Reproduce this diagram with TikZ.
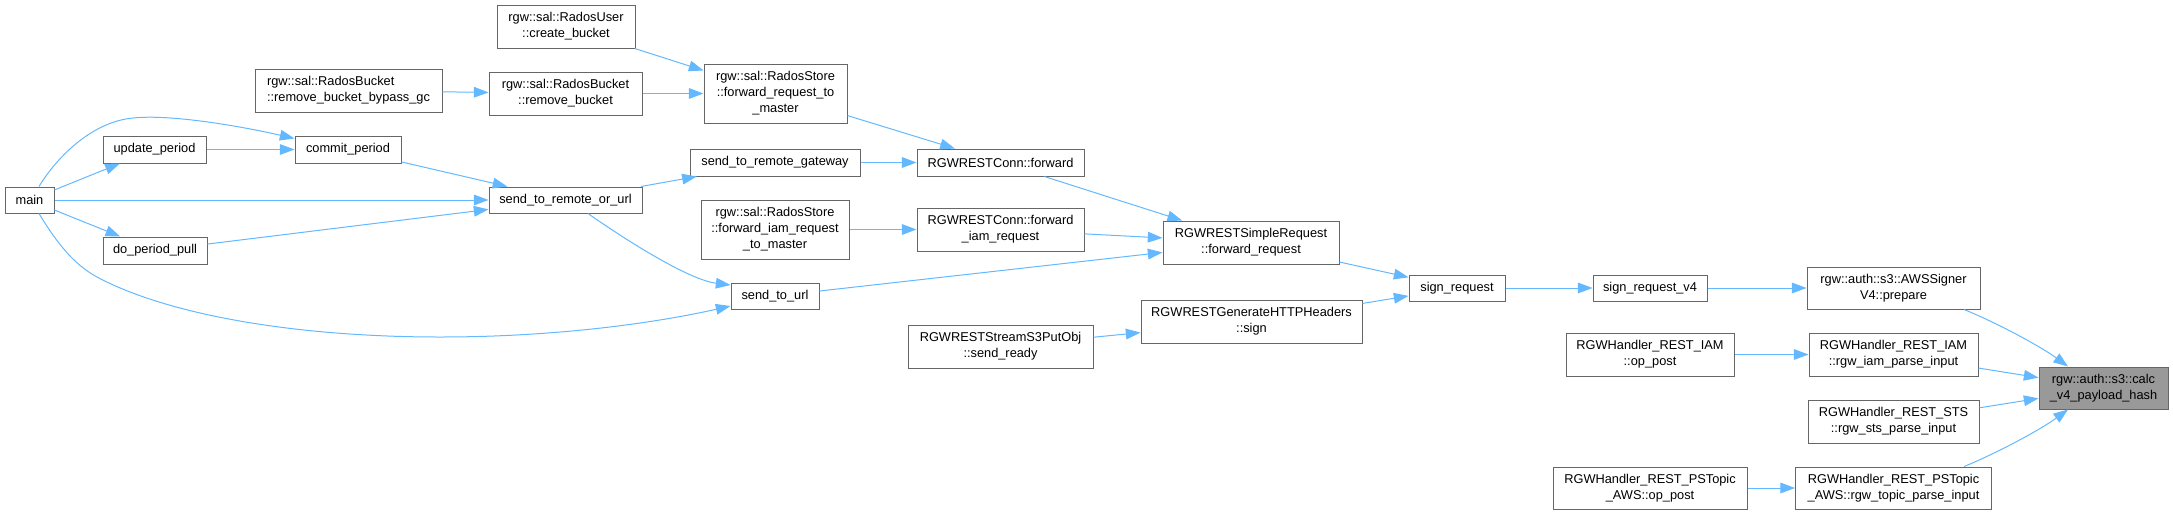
\documentclass[tikz,border=0pt]{standalone}
\usepackage{fontspec}
\setmainfont{Liberation Sans}
\usetikzlibrary{arrows.meta,calc}
\definecolor{edgeblue}{HTML}{63B8FF}
\definecolor{nodeborder}{HTML}{666666}
\definecolor{rootfill}{HTML}{999999}
\begin{document}
\begin{tikzpicture}[x=0.75pt,y=-0.75pt,
  fn/.style={draw=nodeborder, line width=0.75pt, fill=white, inner sep=0pt, align=center,
    font=\fontsize{9.6}{12}\selectfont},
  wh/.style 2 args={minimum width={#1*0.75pt}, minimum height={#2*0.75pt}},
  rootfn/.style={fn, fill=rootfill},
  edge/.style={draw=edgeblue, line width=0.75pt, -{Triangle[length=11pt,width=8pt]}}]
\useasboundingbox (0,0) rectangle (2173,515);

% nodes
\node[fn, wh={49}{26}] (main) at (29.5,200) {main};
\node[fn, wh={103}{27}] (update) at (154.5,149.5) {update\_period};
\node[fn, wh={104}{27}] (pull) at (155,250.5) {do\_period\_pull};
\node[fn, wh={106}{27}] (commit) at (348,149.5) {commit\_period};
\node[fn, wh={187}{43}, align=left] (bypass) at (348.5,90.5) {rgw::sal::RadosBucket\\::remove\_bucket\_bypass\_gc};
\node[fn, wh={138}{43}] (createb) at (566,26.5) {rgw::sal::RadosUser\\::create\_bucket};
\node[fn, wh={153}{43}] (removeb) at (565.5,93.5) {rgw::sal::RadosBucket\\::remove\_bucket};
\node[fn, wh={153}{26}] (remoteorurl) at (565.5,200) {send\_to\_remote\_or\_url};
\node[fn, wh={143}{59}] (fwdmaster) at (775.5,93.5) {rgw::sal::RadosStore\\::forward\_request\_to\\\_master};
\node[fn, wh={170}{27}] (gateway) at (775,162.5) {send\_to\_remote\_gateway};
\node[fn, wh={148}{59}] (iammaster) at (775,229.5) {rgw::sal::RadosStore\\::forward\_iam\_request\\\_to\_master};
\node[fn, wh={88}{26}] (sendurl) at (775,296) {send\_to\_url};
\node[fn, wh={167}{27}] (connfwd) at (1000.5,162.5) {RGWRESTConn::forward};
\node[fn, wh={167}{43}] (conniam) at (1000.5,229.5) {RGWRESTConn::forward\\\_iam\_request};
\node[fn, wh={185}{43}] (putobj) at (1000.5,346.5) {RGWRESTStreamS3PutObj\\::send\_ready};
\node[fn, wh={176}{43}] (simplefwd) at (1251,242.5) {RGWRESTSimpleRequest\\::forward\_request};
\node[fn, wh={221}{43}] (hsign) at (1251.5,321.5) {RGWRESTGenerateHTTPHeaders\\::sign};
\node[fn, wh={96}{26}] (signreq) at (1457,288) {sign\_request};
\node[fn, wh={114}{26}] (signv4) at (1650,288) {sign\_request\_v4};
\node[fn, wh={168}{43}] (iampost) at (1650,354.5) {RGWHandler\_REST\_IAM\\::op\_post};
\node[fn, wh={194}{42}] (topicpost) at (1650,488) {RGWHandler\_REST\_PSTopic\\\_AWS::op\_post};
\node[fn, wh={173}{42}] (prepare) at (1893.5,288) {rgw::auth::s3::AWSSigner\\V4::prepare};
\node[fn, wh={169}{43}] (iamparse) at (1893.5,354.5) {RGWHandler\_REST\_IAM\\::rgw\_iam\_parse\_input};
\node[fn, wh={171}{43}] (stsparse) at (1893.5,421.5) {RGWHandler\_REST\_STS\\::rgw\_sts\_parse\_input};
\node[fn, wh={196}{42}] (topicparse) at (1893.5,488) {RGWHandler\_REST\_PSTopic\\\_AWS::rgw\_topic\_parse\_input};
\node[rootfn, wh={129}{42}] (calc) at (2103.5,388) {rgw::auth::s3::calc\\\_v4\_payload\_hash};

% straight edges
\draw[edge] (main) -- (update);
\draw[edge] (main) -- (remoteorurl);
\draw[edge] (main) -- (pull);
\draw[edge] (update) -- (commit);
\draw[edge] (commit) -- (remoteorurl);
\draw[edge] (pull) -- (remoteorurl);
\draw[edge] (bypass) -- (removeb);
\draw[edge] (createb) -- (fwdmaster);
\draw[edge] (removeb) -- (fwdmaster);
\draw[edge] (remoteorurl) -- (gateway);
\draw[edge] (fwdmaster) -- (connfwd);
\draw[edge] (gateway) -- (connfwd);
\draw[edge] (iammaster) -- (conniam);
\draw[edge] (connfwd) -- (simplefwd);
\draw[edge] (conniam) -- (simplefwd);
\draw[edge] (sendurl) -- (simplefwd);
\draw[edge] (putobj) -- (hsign);
\draw[edge] (simplefwd) -- (signreq);
\draw[edge] (hsign) -- (signreq);
\draw[edge] (signreq) -- (signv4);
\draw[edge] (signv4) -- (prepare);
\draw[edge] (iampost) -- (iamparse);
\draw[edge] (topicpost) -- (topicparse);
\draw[edge] (iamparse) -- (calc);
\draw[edge] (stsparse) -- (calc);

% curved edges
\draw[edge] ($(main.north)+(9.5,0)$) .. controls (55,160) and (90,122) .. (133,118)
  .. controls (170,114) and (240,126) .. ($(commit.west)+(0,-11)$);
\draw[edge] ($(main.south)+(9.5,0)$) .. controls (58,245) and (75,265) .. (97,277)
  .. controls (170,316) and (300,337) .. (440,337)
  .. controls (560,337) and (660,322) .. ($(sendurl.west)+(0,10)$);
\draw[edge] ($(remoteorurl.south)+(22.5,0)$) .. controls (630,243) and (690,280) .. ($(sendurl.west)+(0,-11)$);
\draw[edge] ($(prepare.south)+(70.5,0)$) .. controls (1995,322) and (2040,346) .. ($(calc.north)+(-35.5,0)$);
\draw[edge] ($(topicparse.north)+(70.5,0)$) .. controls (1995,454) and (2040,430) .. ($(calc.south)+(-35.5,0)$);
\end{tikzpicture}
\end{document}
